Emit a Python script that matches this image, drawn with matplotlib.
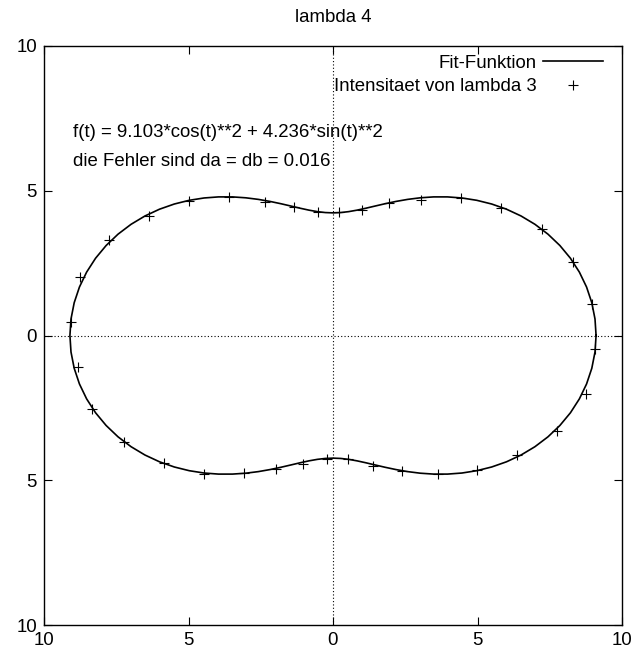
import numpy as np
import matplotlib
matplotlib.use("Agg")
import matplotlib.pyplot as plt
from matplotlib.ticker import FixedLocator, FuncFormatter

plt.rcParams['font.family'] = ['Liberation Sans', 'DejaVu Sans']

# Fit parameters
a_fit = 9.103
b_fit = 4.236

# Measured intensity of lambda 3 versus polarizer angle (degrees)
angles_deg = [-3, 7, 17, 27, 37, 47, 57, 67, 77, 87, 97, 107, 117, 127, 137, 147, 157, 167,
              177, 187, 197, 207, 217, 227, 237, 247, 257, 267, 277, 287, 297, 307, 317, 327,
              337, 347]
intensity = [9.09, 9.02, 8.69, 8.12, 7.29, 6.48, 5.60, 4.98, 4.45, 4.26, 4.29, 4.65, 5.19,
             5.97, 6.79, 7.60, 8.41, 9.00, 9.09, 8.90, 8.71, 8.12, 7.32, 6.52, 5.65, 5.01,
             4.54, 4.28, 4.31, 4.71, 5.24, 6.01, 6.81, 7.60, 8.41, 8.99]

title = "lambda 4"
fit_label = "Fit-Funktion"
data_label = "Intensitaet von lambda 3"
note_lines = ["f(t) = 9.103*cos(t)**2 + 4.236*sin(t)**2",
              "die Fehler sind da = db = 0.016"]
ticks = [-10, -5, 0, 5, 10]

FS = 13.4

fig = plt.figure(figsize=(6.39, 6.56), dpi=100)
ax = fig.add_axes([44 / 639, 31 / 656, 578 / 639, 579 / 656])

# polar fit curve r(t) = a cos^2 t + b sin^2 t
t = np.linspace(0, 2 * np.pi, 101)
r = a_fit * np.cos(t) ** 2 + b_fit * np.sin(t) ** 2
ax.plot(r * np.cos(t), r * np.sin(t), color='black', lw=1.2, label=fit_label, zorder=3)

th = np.deg2rad(np.array(angles_deg))
ri = np.array(intensity)
ax.plot(ri * np.cos(th), ri * np.sin(th), linestyle='none', marker='+', ms=7.8,
        mew=0.8, color='black', label=data_label, zorder=4)

# zero axes
ax.axhline(0, color='black', lw=0.8, ls=(0, (1, 2)), zorder=1)
ax.axvline(0, color='black', lw=0.8, ls=(0, (1, 2)), zorder=1)

ax.set_xlim(-10, 10)
ax.set_ylim(-10, 10)
fmt = FuncFormatter(lambda v, p: f"{abs(v):g}")
ax.xaxis.set_major_locator(FixedLocator(ticks))
ax.yaxis.set_major_locator(FixedLocator(ticks))
ax.xaxis.set_major_formatter(fmt)
ax.yaxis.set_major_formatter(fmt)
ax.tick_params(direction='in', length=5.8, width=0.8, top=True, right=True,
               labelsize=FS, pad=5)
for s in ax.spines.values():
    s.set_linewidth(1.0)

ax.set_title(title, fontsize=FS, pad=17)

for i, line in enumerate(note_lines):
    ax.text(-9.0, 7.0 - i * 1.0, line, fontsize=FS, ha='left', va='center')

leg = ax.legend(loc='upper right', bbox_to_anchor=(0.967, 0.985), markerfirst=False,
                frameon=False, fontsize=FS, handlelength=3.2, handletextpad=0.38,
                borderpad=0, borderaxespad=0, labelspacing=0.36)

fig.savefig("out.png", dpi=100)
